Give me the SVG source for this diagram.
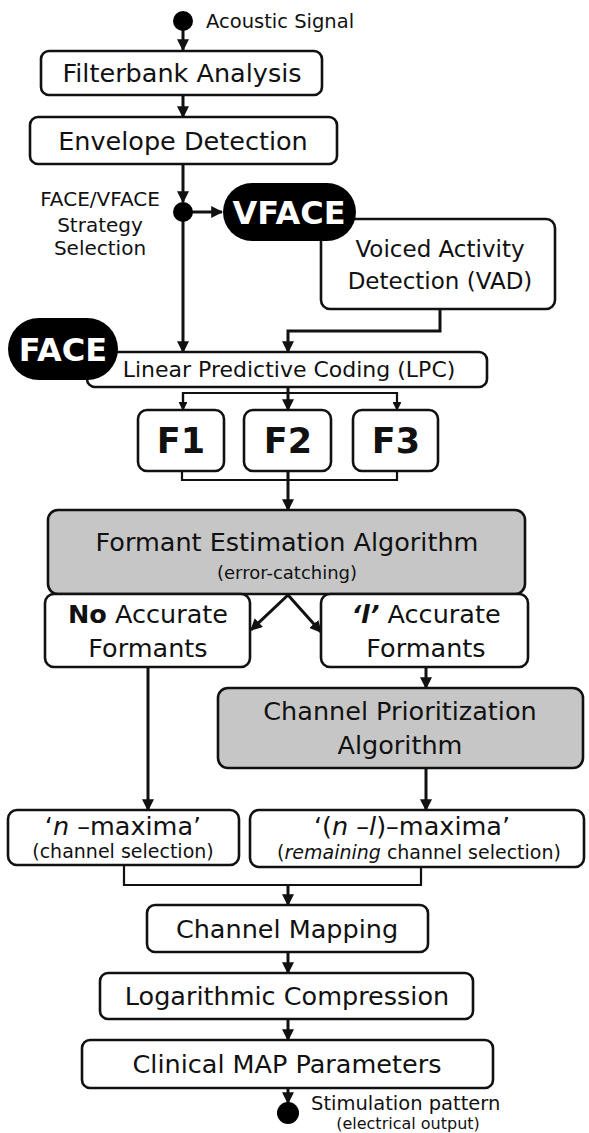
<svg xmlns="http://www.w3.org/2000/svg" width="589" height="1133" viewBox="0 0 589 1133">
  <style>
    text { font-family: "DejaVu Sans", "Liberation Sans", sans-serif; fill: #111; }
    .box { fill: #fff; stroke: #111; stroke-width: 2.6; }
    .gray { fill: #c6c6c6; stroke: #111; stroke-width: 2.6; }
    .pill { fill: #000; }
    .lbl { font-size: 25.5px; text-anchor: middle; }
    .sub { font-size: 19px; text-anchor: middle; }
    .big { font-size: 35px; font-weight: bold; text-anchor: middle; }
    .tag { font-size: 32px; font-weight: bold; fill: #fff; text-anchor: middle; }
    .note { font-size: 19.5px; }
    .wire { fill: none; stroke: #111; stroke-width: 3; }
    .thin { fill: none; stroke: #111; stroke-width: 2.2; }
    .dot { fill: #000; }
  </style>
  <defs>
    <marker id="arr" viewBox="0 0 10 10" refX="9" refY="5" markerWidth="4" markerHeight="4" orient="auto" markerUnits="strokeWidth">
      <path d="M0,0 L10,5 L0,10 z" fill="#111"/>
    </marker>
  </defs>

  <!-- connectors -->
  <g id="connectors">
    <line class="wire" x1="183" y1="28" x2="183" y2="50" marker-end="url(#arr)"/>
    <line class="wire" x1="183" y1="95" x2="183" y2="117" marker-end="url(#arr)"/>
    <line class="wire" x1="183" y1="164" x2="183" y2="202" marker-end="url(#arr)"/>
    <line class="wire" x1="192" y1="212" x2="222" y2="212" marker-end="url(#arr)"/>
    <line class="wire" x1="183" y1="212" x2="183" y2="352" marker-end="url(#arr)"/>
    <polyline class="wire" points="440,309 440,331 288,331 288,352" marker-end="url(#arr)"/>
    <!-- LPC fan-out to formants -->
    <polyline class="thin" points="183,410 183,393 397,393 397,410" marker-end="url(#arr)"/>
    <line class="thin" x1="183" y1="393" x2="183" y2="410" marker-end="url(#arr)"/>
    <line class="wire" x1="288" y1="386" x2="288" y2="410" marker-end="url(#arr)"/>
    <!-- formants merge -->
    <polyline class="thin" points="182,471 182,480 397,480 397,471"/>
    <line class="wire" x1="288" y1="471" x2="288" y2="510" marker-end="url(#arr)"/>
    <!-- split -->
    <line class="wire" x1="288" y1="595" x2="251" y2="630" marker-end="url(#arr)"/>
    <line class="wire" x1="288" y1="595" x2="321" y2="632" marker-end="url(#arr)"/>
    <line class="wire" x1="148" y1="667" x2="148" y2="810" marker-end="url(#arr)"/>
    <line class="wire" x1="426" y1="667" x2="426" y2="688" marker-end="url(#arr)"/>
    <line class="wire" x1="426" y1="768" x2="426" y2="810" marker-end="url(#arr)"/>
    <!-- maxima merge -->
    <polyline class="thin" points="124,865 124,885 421,885 421,867"/>
    <line class="wire" x1="288" y1="885" x2="288" y2="905" marker-end="url(#arr)"/>
    <line class="wire" x1="288" y1="952" x2="288" y2="973" marker-end="url(#arr)"/>
    <line class="wire" x1="288" y1="1019" x2="288" y2="1040" marker-end="url(#arr)"/>
    <line class="wire" x1="288" y1="1088" x2="288" y2="1103" marker-end="url(#arr)"/>
  </g>

  <g id="input">
    <circle class="dot" cx="183" cy="21" r="10"/>
    <text class="note" x="206" y="28">Acoustic Signal</text>
  </g>

  <g id="filterbank">
    <rect class="box" x="41" y="51" width="281" height="44" rx="8"/>
    <text class="lbl" x="182" y="82">Filterbank Analysis</text>
  </g>

  <g id="envelope">
    <rect class="box" x="30" y="117" width="307" height="47" rx="8"/>
    <text class="lbl" x="183" y="150">Envelope Detection</text>
  </g>

  <g id="selection">
    <circle class="dot" cx="183" cy="212" r="10"/>
    <text class="note" x="100" y="206" text-anchor="middle" style="font-size:20px">FACE/VFACE</text>
    <text class="note" x="100" y="232" text-anchor="middle" style="font-size:20px">Strategy</text>
    <text class="note" x="100" y="255" text-anchor="middle" style="font-size:20px">Selection</text>
  </g>

  <g id="vad">
    <rect class="box" x="321" y="219" width="234" height="90" rx="9"/>
    <text class="lbl" x="440" y="257" style="font-size:23px">Voiced Activity</text>
    <text class="lbl" x="440" y="289" style="font-size:23px">Detection (VAD)</text>
  </g>

  <g id="vface">
    <rect class="pill" x="223" y="183" width="133" height="58" rx="29"/>
    <text class="tag" x="289" y="224">VFACE</text>
  </g>

  <g id="lpc">
    <rect class="box" x="87" y="352" width="400" height="35" rx="8"/>
    <text class="lbl" x="289" y="377" style="font-size:22px">Linear Predictive Coding (LPC)</text>
  </g>

  <g id="face">
    <rect class="pill" x="8" y="318" width="110" height="62" rx="31"/>
    <text class="tag" x="63" y="361">FACE</text>
  </g>

  <g id="f1">
    <rect class="box" x="138" y="410" width="86" height="61" rx="9"/>
    <text class="big" x="181" y="453">F1</text>
  </g>
  <g id="f2">
    <rect class="box" x="244" y="410" width="87" height="61" rx="9"/>
    <text class="big" x="288" y="453">F2</text>
  </g>
  <g id="f3">
    <rect class="box" x="353" y="410" width="85" height="61" rx="9"/>
    <text class="big" x="396" y="453">F3</text>
  </g>

  <g id="formant-estimation">
    <rect class="gray" x="48" y="510" width="477" height="84" rx="10"/>
    <text class="lbl" x="287" y="551">Formant Estimation Algorithm</text>
    <text class="sub" x="287" y="579" style="font-size:18px">(error-catching)</text>
  </g>

  <g id="no-accurate">
    <rect class="box" x="45" y="594" width="205" height="73" rx="9"/>
    <text class="lbl" x="148" y="623"><tspan font-weight="bold">No</tspan> Accurate</text>
    <text class="lbl" x="148" y="657">Formants</text>
  </g>

  <g id="l-accurate">
    <rect class="box" x="321" y="594" width="207" height="73" rx="9"/>
    <text class="lbl" x="426" y="623"><tspan font-weight="bold" font-style="italic">‘l’</tspan> Accurate</text>
    <text class="lbl" x="426" y="657">Formants</text>
  </g>

  <g id="prioritization">
    <rect class="gray" x="218" y="688" width="365" height="80" rx="10"/>
    <text class="lbl" x="400" y="720">Channel Prioritization</text>
    <text class="lbl" x="400" y="754">Algorithm</text>
  </g>

  <g id="n-maxima">
    <rect class="box" x="8" y="810" width="231" height="55" rx="9"/>
    <text class="lbl" x="123" y="835">‘<tspan font-style="italic">n</tspan> –maxima’</text>
    <text class="sub" x="123" y="858">(channel selection)</text>
  </g>

  <g id="nl-maxima">
    <rect class="box" x="250" y="810" width="334" height="57" rx="9"/>
    <text class="lbl" x="412" y="835">‘(<tspan font-style="italic">n</tspan> –<tspan font-style="italic">l</tspan>)–maxima’</text>
    <text class="sub" x="419" y="859">(<tspan font-style="italic">remaining</tspan> channel selection)</text>
  </g>

  <g id="channel-mapping">
    <rect class="box" x="147" y="905" width="281" height="47" rx="8"/>
    <text class="lbl" x="287" y="938">Channel Mapping</text>
  </g>

  <g id="log-compression">
    <rect class="box" x="100" y="973" width="373" height="46" rx="8"/>
    <text class="lbl" x="287" y="1005">Logarithmic Compression</text>
  </g>

  <g id="map-parameters">
    <rect class="box" x="82" y="1040" width="411" height="48" rx="8"/>
    <text class="lbl" x="287" y="1073">Clinical MAP Parameters</text>
  </g>

  <g id="output">
    <circle class="dot" cx="288" cy="1113" r="11"/>
    <text class="note" x="311" y="1110">Stimulation pattern</text>
    <text class="sub" x="408" y="1129" style="font-size:16px">(electrical output)</text>
  </g>
</svg>
